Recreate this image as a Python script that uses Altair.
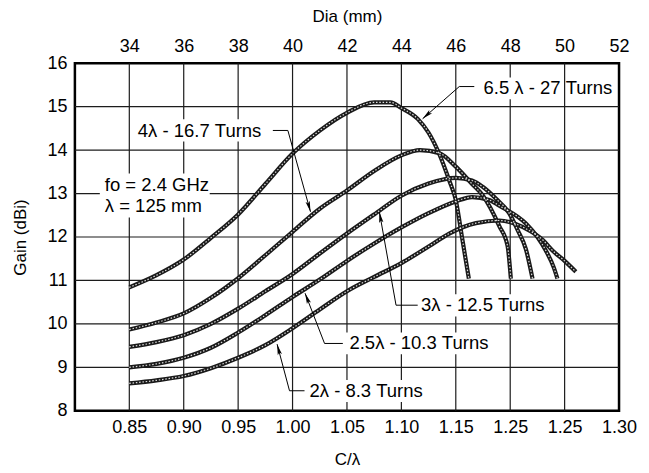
import math
import altair as alt
import pandas as pd

# ---------------- data ----------------
series_names = ["6.5λ", "4λ", "3λ", "2.5λ", "2λ"]

c_65 = [0.85, 0.875, 0.90, 0.925, 0.95, 0.975, 1.00, 1.025, 1.05, 1.075, 1.09, 1.10, 1.115, 1.125, 1.135, 1.144, 1.15, 1.156, 1.162]
g_65 = [10.84, 11.12, 11.48, 11.98, 12.52, 13.22, 13.92, 14.45, 14.86, 15.10, 15.10, 14.97, 14.72, 14.40, 13.90, 13.30, 12.85, 11.95, 11.04]

c_40 = [0.85, 0.875, 0.90, 0.925, 0.95, 0.975, 1.00, 1.025, 1.05, 1.075, 1.10, 1.117, 1.135, 1.15, 1.165, 1.175, 1.19, 1.1975, 1.2006]
g_40 = [9.87, 10.03, 10.24, 10.60, 11.05, 11.58, 12.12, 12.65, 13.07, 13.52, 13.88, 14.00, 13.93, 13.62, 13.22, 12.95, 12.25, 11.80, 11.04]

c_30 = [0.85, 0.875, 0.90, 0.925, 0.95, 0.975, 1.00, 1.025, 1.05, 1.075, 1.10, 1.125, 1.15, 1.165, 1.175, 1.187, 1.199, 1.207, 1.2144, 1.2205]
g_30 = [9.47, 9.58, 9.74, 10.00, 10.35, 10.75, 11.15, 11.62, 12.08, 12.52, 12.95, 13.23, 13.36, 13.30, 13.15, 12.88, 12.55, 12.15, 11.72, 11.04]

c_25 = [0.85, 0.875, 0.90, 0.925, 0.95, 0.975, 1.00, 1.025, 1.05, 1.075, 1.10, 1.125, 1.15, 1.165, 1.18, 1.19, 1.2144, 1.225, 1.2327, 1.24, 1.2434]
g_25 = [9.00, 9.08, 9.22, 9.45, 9.80, 10.20, 10.62, 11.02, 11.45, 11.85, 12.22, 12.55, 12.82, 12.92, 12.86, 12.72, 12.31, 12.00, 11.69, 11.30, 11.04]

c_20 = [0.85, 0.875, 0.90, 0.925, 0.95, 0.975, 1.00, 1.025, 1.05, 1.075, 1.10, 1.125, 1.144, 1.1685, 1.19, 1.205, 1.2174, 1.23, 1.2388, 1.25, 1.2603]
g_20 = [8.63, 8.70, 8.80, 8.98, 9.22, 9.51, 9.90, 10.33, 10.75, 11.08, 11.40, 11.78, 12.08, 12.32, 12.38, 12.30, 12.15, 11.93, 11.69, 11.45, 11.20]

x_tick_values = [0.85, 0.90, 0.95, 1.00, 1.05, 1.10, 1.15, 1.20, 1.25, 1.30]
x_tick_labels = ["0.85", "0.90", "0.95", "1.00", "1.05", "1.10", "1.15", "1.25", "1.25", "1.30"]
y_tick_values = [8, 9, 10, 11, 12, 13, 14, 15, 16]
dia_tick_values = [34, 36, 38, 40, 42, 44, 46, 48, 50, 52]

x_grid_values = [0.85, 0.90, 0.95, 1.00, 1.05, 1.10, 1.15, 1.20, 1.25]
y_grid_values = [9, 10, 11, 12, 13, 14, 15]

# annotation texts (anchor in data coords)
label_texts = ["6.5 λ - 27 Turns", "4λ - 16.7 Turns", "fo = 2.4 GHz", "λ = 125 mm",
               "3λ - 12.5 Turns", "2.5λ - 10.3 Turns", "2λ - 8.3 Turns"]
label_c = [1.1755, 0.8578, 0.8275, 0.8275, 1.1181, 1.0523, 1.0156]
label_g = [15.42, 14.45, 13.19, 12.71, 10.43, 9.55, 8.46]

# white boxes behind the annotation texts: (c_left, c_right, g_top, g_bottom)
label_boxes = [
    (1.1697, 1.2413, 15.67, 15.17),
    (0.8523, 0.9761, 14.71, 14.20),
    (0.8229, 0.9239, 13.46, 12.45),
    (1.1138, 1.2358, 10.68, 10.17),
    (1.0477, 1.1835, 9.80, 9.30),
    (1.0110, 1.1230, 8.71, 8.20),
]

# leader lines: (c1, g1, c2, g2)
leaders = [
    (1.1532, 15.464, 1.1670, 15.464), (1.1532, 15.464, 1.1195, 14.722),
    (0.9819, 14.453, 0.9957, 14.453), (0.9957, 14.453, 1.0165, 12.58),
    (1.0951, 10.43, 1.1150, 10.43), (1.0951, 10.43, 1.0798, 12.575),
    (1.0294, 9.549, 1.0462, 9.549), (1.0294, 9.549, 1.0115, 10.706),
    (0.9972, 8.46, 1.0110, 8.46), (0.9972, 8.46, 0.9858, 9.533),
]

X_DOMAIN = [0.80, 1.30]
Y_DOMAIN = [8, 16]

# ---------------- build tables ----------------
rows = []
for name, cs, gs in zip(series_names, [c_65, c_40, c_30, c_25, c_20], [g_65, g_40, g_30, g_25, g_20]):
    for i, (c, g) in enumerate(zip(cs, gs)):
        rows.append({"series": name, "c": c, "g": g, "i": i})
curves = pd.DataFrame(rows)

labels = pd.DataFrame({"c": label_c, "g": label_g, "text": label_texts})
boxes = pd.DataFrame(label_boxes, columns=["ca", "cb", "ga", "gb"])
lead_df = pd.DataFrame(leaders, columns=["c1", "g1", "c2", "g2"])

PX_C = 1090.0   # px per unit C/lambda
PX_G = 43.5     # px per dBi
heads = []
for k in range(1, len(leaders), 2):
    c1, g1, c2, g2 = leaders[k]
    dx = (c2 - c1) * PX_C
    dy = -(g2 - g1) * PX_G
    ang = math.degrees(math.atan2(dx, -dy)) % 360
    heads.append({"c": c2, "g": g2, "angle": ang})
heads = pd.DataFrame(heads)

dia_df = pd.DataFrame({"dia": dia_tick_values, "g": [12] * len(dia_tick_values)})
xgrid_df = pd.DataFrame({"c": x_grid_values, "g0": Y_DOMAIN[0], "g1": Y_DOMAIN[1]})
ygrid_df = pd.DataFrame({"g": y_grid_values, "c0": X_DOMAIN[0], "c1": X_DOMAIN[1]})

FONT = "Liberation Sans"
label_expr = " : ".join(
    [f"abs(datum.value - {v}) < 0.001 ? '{l}'" for v, l in zip(x_tick_values, x_tick_labels)]
) + " : ''"

xscale = alt.Scale(domain=X_DOMAIN, nice=False, zero=False)
yscale = alt.Scale(domain=Y_DOMAIN, nice=False, zero=False)

x_axis = alt.Axis(values=x_tick_values, labelExpr=label_expr, title="C/λ",
                  labelPadding=8, titlePadding=15)
y_axis = alt.Axis(values=y_tick_values, title="Gain (dBi)", labelPadding=8, titlePadding=17)

GRID = "#1c1c1c"
vgrid = alt.Chart(xgrid_df).mark_rule(color=GRID, strokeWidth=1.2).encode(
    x=alt.X("c:Q", scale=xscale, axis=x_axis),
    y=alt.Y("g0:Q", scale=yscale, axis=y_axis),
    y2="g1:Q")
hgrid = alt.Chart(ygrid_df).mark_rule(color=GRID, strokeWidth=1.2).encode(
    y=alt.Y("g:Q", scale=yscale),
    x=alt.X("c0:Q", scale=xscale),
    x2="c1:Q")

box_layer = alt.Chart(boxes).mark_rect(color="white", opacity=1).encode(
    x=alt.X("ca:Q", scale=xscale), x2="cb:Q",
    y=alt.Y("ga:Q", scale=yscale), y2="gb:Q")

base = alt.Chart(curves)
curve_dark = base.mark_line(color="#1a1a1a", strokeWidth=4.2, interpolate="monotone").encode(
    x=alt.X("c:Q", scale=xscale),
    y=alt.Y("g:Q", scale=yscale),
    detail="series:N",
    order="i:Q",
)
curve_tex = base.mark_line(color="white", strokeWidth=1.2, strokeDash=[1.5, 1.8],
                           opacity=0.85, interpolate="monotone").encode(
    x=alt.X("c:Q", scale=xscale),
    y=alt.Y("g:Q", scale=yscale),
    detail="series:N",
    order="i:Q",
)

texts = alt.Chart(labels).mark_text(align="left", baseline="middle", font=FONT, fontSize=18.5,
                                    color="black").encode(
    x=alt.X("c:Q", scale=xscale), y=alt.Y("g:Q", scale=yscale), text="text:N")

lead = alt.Chart(lead_df).mark_rule(color="black", strokeWidth=1).encode(
    x=alt.X("c1:Q", scale=xscale), y=alt.Y("g1:Q", scale=yscale), x2="c2:Q", y2="g2:Q")

arrow_path = "M0,0L0.38,1.9L0,1.5L-0.38,1.9Z"
arrow = alt.Chart(heads).mark_point(shape=arrow_path, filled=True, color="black", size=130,
                                    opacity=1, strokeWidth=0).encode(
    x=alt.X("c:Q", scale=xscale), y=alt.Y("g:Q", scale=yscale),
    angle=alt.Angle("angle:Q", scale=None))

main = alt.layer(vgrid, hgrid, box_layer, curve_dark, curve_tex, lead, arrow, texts)

top = alt.Chart(dia_df).mark_point(opacity=0).encode(
    x=alt.X("dia:Q", scale=alt.Scale(domain=[32, 52], nice=False, zero=False),
            axis=alt.Axis(orient="top", values=dia_tick_values, title="Dia (mm)",
                          labelPadding=8, titlePadding=12)),
    y=alt.Y("g:Q", scale=yscale),
)

chart = alt.layer(main, top).resolve_scale(x="independent").properties(
    width=545, height=348,
    autosize=alt.AutoSizeParams(type="none"),
    padding={"left": 67, "top": 55, "right": 22, "bottom": 60},
).configure_view(
    stroke="black", strokeWidth=2.5
).configure_axis(
    grid=False, ticks=False, domain=False, labelFlush=False,
    labelFont=FONT, titleFont=FONT, labelFontSize=18, titleFontSize=17,
    titleFontWeight="normal", labelColor="black", titleColor="black",
)

chart.save("out.html", embed_options={"renderer": "svg", "actions": False})
